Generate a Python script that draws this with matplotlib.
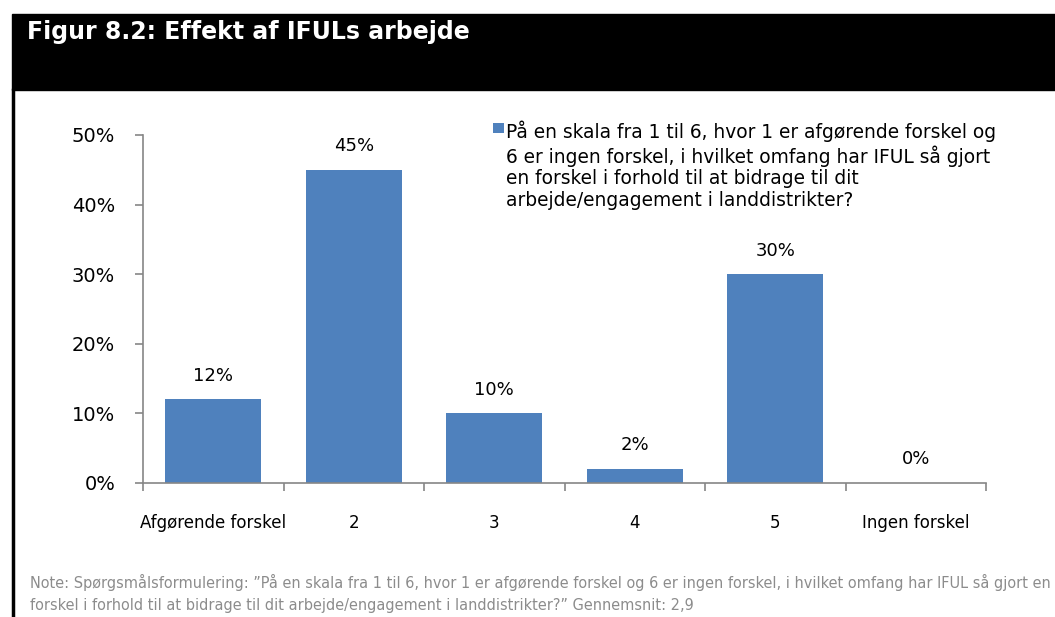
import matplotlib
matplotlib.use("Agg")
import matplotlib.pyplot as plt
from matplotlib.legend_handler import HandlerPatch, update_from_first_child
from matplotlib.container import BarContainer
import numpy as np

categories = ["Afgørende forskel", "2", "3", "4", "5", "Ingen forskel"]
values = [12, 45, 10, 2, 30, 0]
series_name = ("På en skala fra 1 til 6, hvor 1 er afgørende forskel og\n"
               "6 er ingen forskel, i hvilket omfang har IFUL så gjort\n"
               "en forskel i forhold til at bidrage til dit\n"
               "arbejde/engagement i landdistrikter?")
title = "Figur 8.2: Effekt af IFULs arbejde"
note = ("Note: Spørgsmålsformulering: \u201dPå en skala fra 1 til 6, hvor 1 er afgørende forskel og 6 er ingen forskel, "
        "i hvilket omfang har IFUL så gjort en\nforskel i forhold til at bidrage til dit arbejde/engagement i "
        "landdistrikter?\u201d Gennemsnit: 2,9")

plt.rcParams['font.family'] = ['DejaVu Sans']
W, H = 1055, 617
fig = plt.figure(figsize=(W / 100, H / 100), dpi=100)

# black header band and left frame line
fig.patches.append(plt.Rectangle((12 / W, 1 - 90 / H), 1 - 12 / W, 76 / H,
                                 transform=fig.transFigure, color="black", zorder=0))
fig.add_artist(plt.Line2D([13 / W, 13 / W], [0, 1 - 90 / H], transform=fig.transFigure,
                          color="black", lw=2.5))
fig.text(27 / W, 1 - 32 / H, title, color="white", fontsize=17, fontweight="bold",
         va="center", ha="left")

ax = fig.add_axes([143 / W, 1 - 483 / H, (986 - 143) / W, (483 - 135) / H])
x = np.arange(len(categories))
bars = ax.bar(x, values, width=0.68, color="#4F81BD", label=series_name)
for xi, v in zip(x, values):
    ax.text(xi, v + 2.1, f"{v}%", ha="center", va="bottom", fontsize=13)

ax.set_xlim(-0.5, len(categories) - 0.5)
ax.set_ylim(0, 50)
ax.set_yticks(range(0, 51, 10))
ax.set_yticklabels([f"{t}%" for t in range(0, 51, 10)], fontsize=14)
ax.set_xticks(x)
ax.set_xticklabels(categories, fontsize=12)
ax.set_xticks(np.arange(-0.5, len(categories)), minor=True)
ax.tick_params(axis="x", which="major", length=0, pad=22)
ax.tick_params(axis="x", which="minor", length=6, color="#868686", width=1.2)
ax.tick_params(axis="y", length=6, color="#868686", width=1.2, pad=14)
for s in ["top", "right"]:
    ax.spines[s].set_visible(False)
for s in ["left", "bottom"]:
    ax.spines[s].set_color("#868686")
    ax.spines[s].set_linewidth(1.2)


# legend square sits beside the first line of the label, like Excel does
def top_square(legend, orig_handle, xdescent, ydescent, width, height, fontsize):
    s = 0.55 * fontsize
    return plt.Rectangle((-xdescent, 2.15 * fontsize), s, s)


leg = ax.legend(loc="upper left", bbox_to_anchor=((486 - 143) / (986 - 143), 1.063),
                frameon=False, fontsize=13.4, handlelength=0.55, handleheight=0.7,
                handletextpad=0.12, borderaxespad=0,
                handler_map={BarContainer: HandlerPatch(patch_func=top_square,
                                                        update_func=update_from_first_child)})
leg.get_texts()[0].set_linespacing(1.18)

fig.text(30 / W, 1 - 574 / H, note, color="#8C8C8C", fontsize=10.45, va="top", ha="left",
         linespacing=1.55)

fig.savefig("out.png", dpi=100)
